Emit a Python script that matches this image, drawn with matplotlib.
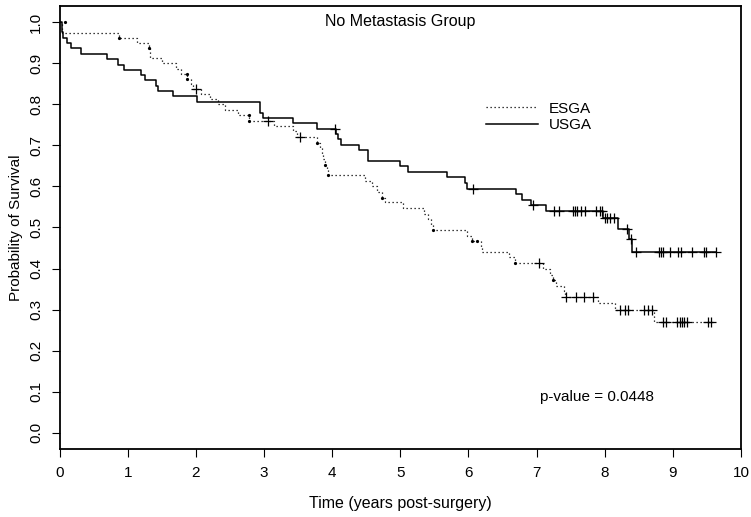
import numpy as np
import matplotlib
matplotlib.use("Agg")
import matplotlib.pyplot as plt

plt.rcParams["font.family"] = ["Liberation Sans", "DejaVu Sans"]
plt.rcParams["font.size"] = 11

# Kaplan-Meier estimates (time in years, survival)
esga_t = [0, 0.03, 0.87, 1.13, 1.31, 1.33, 1.50, 1.70, 1.78, 1.87, 1.92, 1.96,
          2.08, 2.20, 2.32, 2.42, 2.62, 2.78, 3.15, 3.43, 3.48, 3.78, 3.82,
          3.85, 3.87, 3.89, 3.92, 3.94, 4.48, 4.58, 4.66, 4.73, 4.78, 5.04,
          5.35, 5.40, 5.45, 5.48, 5.98, 6.05, 6.18, 6.20, 6.60, 6.69, 7.10,
          7.20, 7.24, 7.28, 7.40, 7.42, 7.90, 8.15, 8.73]
esga_s = [1.0, 0.975, 0.962, 0.950, 0.937, 0.912, 0.900, 0.887, 0.875, 0.862,
          0.850, 0.837, 0.825, 0.812, 0.800, 0.787, 0.773, 0.760, 0.747, 0.734,
          0.721, 0.707, 0.693, 0.680, 0.667, 0.653, 0.640, 0.627, 0.613, 0.600,
          0.587, 0.573, 0.561, 0.547, 0.534, 0.520, 0.507, 0.493, 0.480, 0.467,
          0.453, 0.440, 0.427, 0.413, 0.399, 0.385, 0.372, 0.358, 0.344, 0.331,
          0.315, 0.298, 0.269]
esga_cens = [2.0, 3.05, 3.53, 7.04, 7.43, 7.58, 7.70, 7.83, 8.23, 8.30, 8.34,
             8.58, 8.63, 8.69, 8.86, 8.90, 9.06, 9.10, 9.13, 9.17, 9.21, 9.51,
             9.56]
esga_end = 9.58
# heavier dots seen on the dotted curve
esga_dot_t = [0.08, 0.87, 1.31, 1.87, 1.87, 2.78, 2.78, 3.78, 3.89, 3.94,
              4.73, 5.48, 6.05, 6.13, 6.69, 7.24]
esga_dot_s = [1.0, 0.962, 0.937, 0.875, 0.862, 0.773, 0.760, 0.707, 0.653,
              0.627, 0.573, 0.493, 0.467, 0.467, 0.413, 0.372]

usga_t = [0, 0.03, 0.05, 0.10, 0.17, 0.31, 0.70, 0.85, 0.95, 1.19, 1.25, 1.42,
          1.45, 1.66, 2.01, 2.94, 2.98, 3.42, 3.77, 4.05, 4.09, 4.13, 4.40,
          4.52, 5.00, 5.11, 5.68, 5.95, 5.98, 6.70, 6.79, 6.92, 7.14, 7.98,
          8.19, 8.35, 8.40]
usga_s = [1.0, 0.976, 0.961, 0.950, 0.937, 0.924, 0.911, 0.897, 0.885, 0.872,
          0.859, 0.846, 0.833, 0.820, 0.806, 0.780, 0.767, 0.754, 0.741, 0.728,
          0.715, 0.702, 0.688, 0.662, 0.649, 0.635, 0.622, 0.608, 0.594, 0.581,
          0.567, 0.554, 0.540, 0.524, 0.497, 0.471, 0.441]
usga_cens = [4.04, 6.07, 6.95, 7.26, 7.33, 7.54, 7.57, 7.60, 7.65, 7.71, 7.87,
             7.93, 7.96, 8.01, 8.04, 8.08, 8.13, 8.32, 8.38, 8.46, 8.79, 8.82,
             8.85, 8.96, 9.08, 9.12, 9.28, 9.45, 9.48, 9.63]
usga_end = 9.64


def surv_at(t_ev, s_ev, times):
    idx = np.searchsorted(np.array(t_ev), np.array(times), side="right") - 1
    return np.array(s_ev)[idx]


fig = plt.figure(figsize=(7.51, 5.17), dpi=100)
ax = fig.add_axes([0.0795, 0.1315, 0.9072, 0.857])

ln_e, = ax.step(esga_t + [esga_end], esga_s + [esga_s[-1]], where="post",
                color="black", lw=0.9, linestyle=(0, (1, 2.2)))
ln_u, = ax.step(usga_t + [usga_end], usga_s + [usga_s[-1]], where="post",
                color="black", lw=1.1)

ax.plot(esga_cens, surv_at(esga_t, esga_s, esga_cens), "+", color="black",
        ms=7, mew=0.9)
ax.plot(usga_cens, surv_at(usga_t, usga_s, usga_cens), "+", color="black",
        ms=7, mew=0.9)
ax.plot(esga_dot_t, esga_dot_s, "o", color="black", ms=2.3, mew=0)

ax.set_xlim(0, 10)
ax.set_ylim(-0.04, 1.04)
ax.set_xticks(range(0, 11))
ax.set_yticks(np.arange(0, 1.01, 0.1))
ax.set_yticklabels([f"{v:.1f}" for v in np.arange(0, 1.01, 0.1)],
                   rotation=90, va="center")
ax.tick_params(direction="out", length=6, width=0.8, pad=6)
for sp in ax.spines.values():
    sp.set_linewidth(1.3)

ax.set_xlabel("Time (years post-surgery)", labelpad=12, fontsize=11.5)
ax.set_ylabel("Probability of Survival", labelpad=4)
ax.text(0.5, 0.966, "No Metastasis Group", transform=ax.transAxes,
        ha="center", va="center", fontsize=11.5)
ax.text(7.05, 0.087, "p-value = 0.0448", ha="left", va="center")

ax.legend([ln_e, ln_u], ["ESGA", "USGA"], loc="upper left",
          bbox_to_anchor=(0.626, 0.784), frameon=False, borderpad=0,
          borderaxespad=0, handlelength=3.4, handletextpad=0.7,
          labelspacing=0.15)

fig.savefig("out.png", dpi=100)
